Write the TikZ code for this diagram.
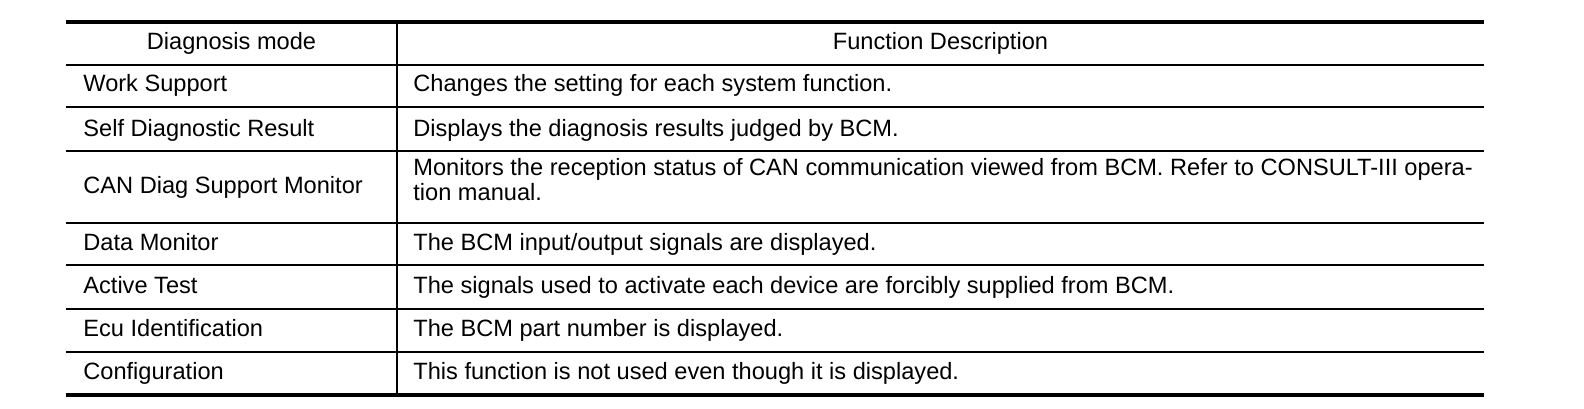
\documentclass[tikz,border=0pt]{standalone}
\usepackage{fontspec}
\setmainfont{Liberation Sans}
\begin{document}
\begin{tikzpicture}[x=0.5pt, y=-0.5pt, every node/.style={font=\fontsize{11.8}{12.5}\selectfont, inner sep=0pt}]
\def\xl{66}
\def\xm{397}
\def\xr{1484}
\def\ytop{22}
\def\ybot{395}
\useasboundingbox (0,0) rectangle (1584,408);

% rules of the table
\draw[line width=2pt] (\xl,\ytop) -- (\xr,\ytop);
\draw[line width=2pt] (\xl,\ybot) -- (\xr,\ybot);
\foreach \y in {65,107,151,223,265,309,352} {
  \draw[line width=1pt] (\xl,\y) -- (\xr,\y);
}
\draw[line width=1.3pt] (\xm,\ytop) -- (\xm,\ybot);

% header
\node[anchor=base] (hmode) at ({(\xl+\xm)/2},49) {Diagnosis mode};
\node[anchor=base] (hdesc) at ({(\xm+\xr)/2},49) {Function Description};

% rows
\foreach \n/\y/\mode/\desc in {
  ws/91/Work Support/{Changes the setting for each system function.},
  sd/136/Self Diagnostic Result/{Displays the diagnosis results judged by BCM.},
  dm/250/Data Monitor/{The BCM input/output signals are displayed.},
  at/293/Active Test/{The signals used to activate each device are forcibly supplied from BCM.},
  ei/336/Ecu Identification/{The BCM part number is displayed.},
  cf/379/Configuration/{This function is not used even though it is displayed.}} {
  \node[anchor=base west] (m\n) at (\xl+17,\y) {\mode};
  \node[anchor=base west] (d\n) at (\xm+16,\y) {\desc};
}
\node[anchor=base west] (mcan) at (\xl+17,193) {CAN Diag Support Monitor};
\node[anchor=base west, align=left] (dcan) at (\xm+16,200)
  {Monitors the reception status of CAN communication viewed from BCM. Refer to CONSULT-III opera-\\tion manual.};
\end{tikzpicture}
\end{document}
